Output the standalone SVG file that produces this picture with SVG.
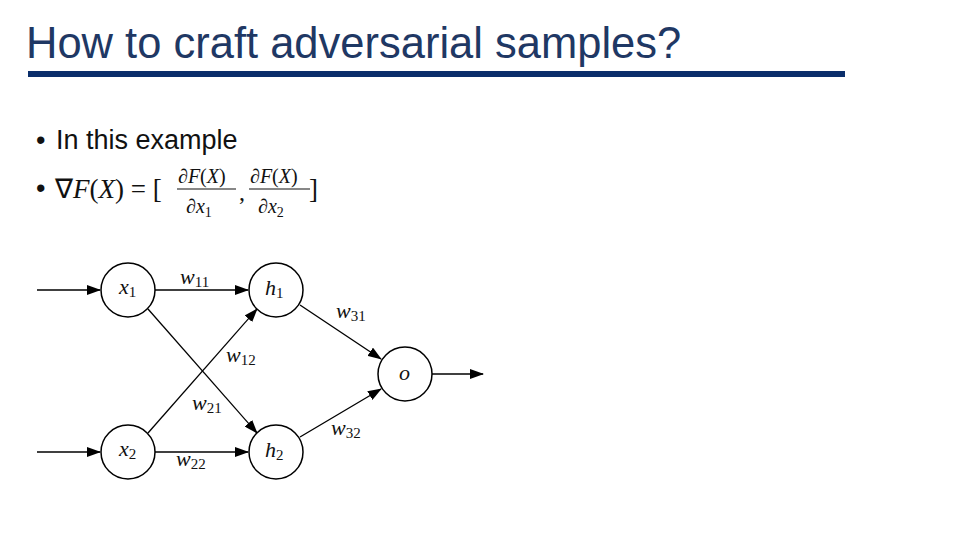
<svg xmlns="http://www.w3.org/2000/svg" width="960" height="540" viewBox="0 0 960 540">
<style>
.n{fill:#fff;stroke:#000;stroke-width:1.5}
.e{stroke:#000;stroke-width:1.3;fill:none;marker-end:url(#a)}
.m{font-family:"Liberation Serif",serif;font-style:italic;font-size:22px;fill:#111}
.s{font-size:15px;font-style:normal}
.b{font-family:"Liberation Sans",sans-serif;font-size:27px;fill:#111}
</style>
<defs><marker id="a" markerWidth="14" markerHeight="10" refX="13" refY="5" orient="auto" markerUnits="userSpaceOnUse"><path d="M0,0L14,5L0,10z" fill="#000"/></marker></defs>
<rect width="960" height="540" fill="#fff"/>
<text x="26" y="58" font-family="Liberation Sans,sans-serif" font-size="43.5" fill="#1F3864">How to craft adversarial samples?</text>
<rect x="28" y="71" width="817" height="6" fill="#0B2E6B"/>
<g id="bullets">
<text class="b" x="36" y="149">•</text><text class="b" x="56" y="149">In this example</text>
<text class="b" x="36" y="197">•</text>
<text x="55" y="198" font-family="Liberation Serif,serif" font-size="27" fill="#111">∇<tspan font-style="italic">F</tspan>(<tspan font-style="italic">X</tspan>) = [</text>
<text x="178" y="183" font-family="Liberation Serif,serif" font-size="20" fill="#111">∂<tspan font-style="italic">F</tspan>(<tspan font-style="italic">X</tspan>)</text>
<line x1="177" y1="189" x2="236" y2="189" stroke="#111" stroke-width="1.2"/>
<text x="186" y="213" font-family="Liberation Serif,serif" font-size="20" fill="#111">∂<tspan font-style="italic">x</tspan><tspan font-size="14" dy="4">1</tspan></text>
<text x="239" y="200" font-family="Liberation Serif,serif" font-size="24" fill="#111">,</text>
<text x="250" y="183" font-family="Liberation Serif,serif" font-size="20" fill="#111">∂<tspan font-style="italic">F</tspan>(<tspan font-style="italic">X</tspan>)</text>
<line x1="249" y1="189" x2="310" y2="189" stroke="#111" stroke-width="1.2"/>
<text x="258" y="213" font-family="Liberation Serif,serif" font-size="20" fill="#111">∂<tspan font-style="italic">x</tspan><tspan font-size="14" dy="4">2</tspan></text>
<text x="309" y="198" font-family="Liberation Serif,serif" font-size="27" fill="#111">]</text>
</g>
<g id="connectors">
<line class="e" x1="37" y1="290" x2="100" y2="290"/>
<line class="e" x1="37" y1="452" x2="100" y2="452"/>
<line class="e" x1="155" y1="290" x2="248" y2="290"/>
<line class="e" x1="155" y1="452" x2="248" y2="452"/>
<line class="e" x1="148" y1="309" x2="257" y2="433"/>
<line class="e" x1="148" y1="433" x2="257" y2="309"/>
<line class="e" x1="300" y1="305" x2="381" y2="359"/>
<line class="e" x1="300" y1="437" x2="381" y2="389"/>
<line class="e" x1="432" y1="374" x2="483" y2="374"/>
<text class="m" x="180" y="284">w<tspan class="s" dy="3">11</tspan></text>
<text class="m" x="226" y="362">w<tspan class="s" dy="3">12</tspan></text>
<text class="m" x="192" y="410">w<tspan class="s" dy="3">21</tspan></text>
<text class="m" x="176" y="466">w<tspan class="s" dy="3">22</tspan></text>
<text class="m" x="336" y="318">w<tspan class="s" dy="3">31</tspan></text>
<text class="m" x="331" y="435">w<tspan class="s" dy="3">32</tspan></text>
</g>
<g id="x1"><circle class="n" cx="128" cy="290" r="27"/><text class="m" x="119" y="294">x<tspan class="s" dy="3">1</tspan></text></g>
<g id="x2"><circle class="n" cx="128" cy="452" r="27"/><text class="m" x="119" y="456">x<tspan class="s" dy="3">2</tspan></text></g>
<g id="h1"><circle class="n" cx="276" cy="290" r="27"/><text class="m" x="265" y="295">h<tspan class="s" dy="3">1</tspan></text></g>
<g id="h2"><circle class="n" cx="276" cy="452" r="27"/><text class="m" x="265" y="457">h<tspan class="s" dy="3">2</tspan></text></g>
<g id="o"><circle class="n" cx="405" cy="374" r="27"/><text class="m" x="399" y="380">o</text></g>
</svg>
